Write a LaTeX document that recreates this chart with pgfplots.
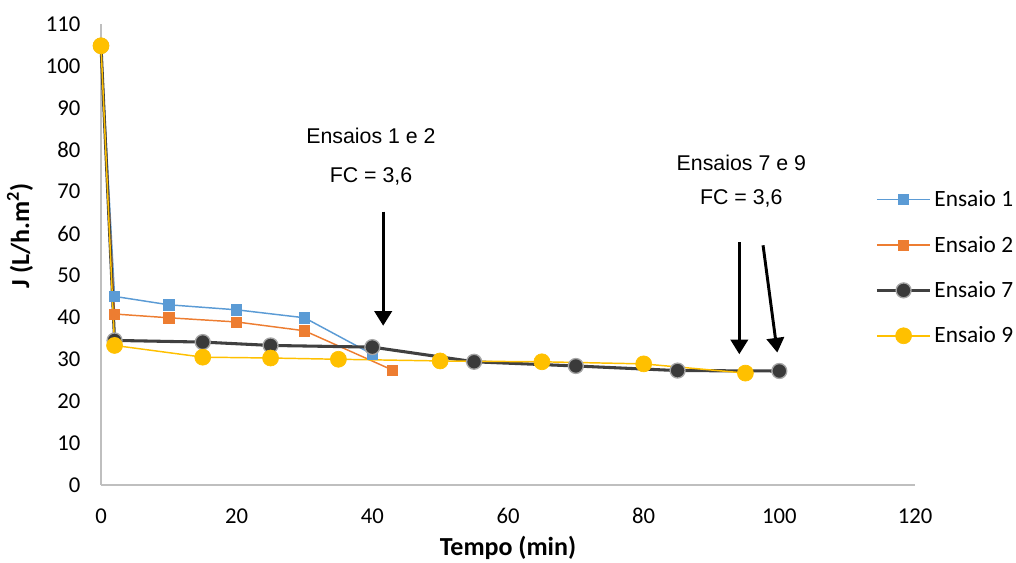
\documentclass[border=0pt]{standalone}
\usepackage{pgfplots}
\pgfplotsset{compat=1.18}
\usetikzlibrary{arrows.meta}
\usepackage{fontspec}
\setmainfont{Carlito}
\newfontfamily\arialf{Liberation Sans}
\definecolor{cblue}{HTML}{5B9BD5}
\definecolor{corange}{HTML}{ED7D31}
\definecolor{cdark}{HTML}{404040}
\definecolor{cdarkfill}{HTML}{3A3A3A}
\definecolor{cring}{HTML}{A6A6A6}
\definecolor{cyellow}{HTML}{FFC000}
\definecolor{caxis}{HTML}{BFBFBF}
\begin{document}
\begin{tikzpicture}
\begin{axis}[
  scale only axis, width=610.5pt, height=345.75pt,
  xmin=0, xmax=120, ymin=0, ymax=110,
  xtick={0,20,...,120}, ytick={0,10,...,110},
  axis x line=bottom, axis y line=left,
  axis line style={draw=caxis, line width=1.2pt, -},
  major tick length=0pt,
  tick label style={font=\fontsize{17}{20}\selectfont},
  /pgf/number format/assume math mode=true,
  yticklabel style={xshift=-12pt},
  xticklabel style={yshift=-14pt},
  xlabel={\textbf{Tempo (min)}},
  ylabel={\textbf{J (L/h.m\textsuperscript{2})}},
  label style={font=\fontsize{19.5}{23}\selectfont},
  xlabel style={at={(axis description cs:0.5,0)}, anchor=center, yshift=-47.5pt},
  ylabel style={at={(axis description cs:-0.0995,0.54)}, anchor=center},
  clip=false,
  legend style={at={(axis description cs:0.951,0.645)}, anchor=north west, draw=none, fill=none,
    font=\fontsize{17.5}{20}\selectfont, row sep=16.5pt, inner sep=0pt},
  legend cell align=left,
  legend image code/.code={\draw[mark repeat=2,mark phase=2] plot coordinates {(0pt,0pt) (20pt,0pt) (40pt,0pt)};},
]
\addplot[color=cblue, line width=1.1pt, mark=square*, mark size=3.8pt, mark options={fill=cblue, draw=cblue, line width=0.5pt}]
  coordinates {(0,104.8) (2,45) (10,43) (20,41.8) (30,39.9) (40,31.2)};
\addlegendentry{Ensaio 1}
\addplot[color=corange, line width=1.1pt, mark=square*, mark size=3.8pt, mark options={fill=corange, draw=corange, line width=0.5pt}]
  coordinates {(0,104.8) (2,40.8) (10,39.9) (20,38.9) (30,36.8) (43,27.4)};
\addlegendentry{Ensaio 2}
\addplot[color=cdark, line width=2.3pt, mark=*, mark size=5.6pt, mark options={fill=cdarkfill, draw=cring, line width=1pt}]
  coordinates {(0,104.8) (2,34.5) (15,34.1) (25,33.3) (40,32.9) (55,29.4) (70,28.4) (85,27.3) (100,27.2)};
\addlegendentry{Ensaio 7}
\addplot[color=cyellow, line width=1.1pt, mark=*, mark size=6pt, mark options={fill=cyellow, draw=cyellow, line width=0.5pt}]
  coordinates {(0,104.8) (2,33.3) (15,30.5) (25,30.3) (35,30.0) (50,29.6) (65,29.4) (80,28.9) (95,26.7)};
\addlegendentry{Ensaio 9}
\node[font=\arialf\fontsize{16}{19}\selectfont] at (axis cs:39.8,83.3) {Ensaios 1 e 2};
\node[font=\arialf\fontsize{16}{19}\selectfont] at (axis cs:39.8,73.7) {FC = 3,6};
\node[font=\arialf\fontsize{16}{19}\selectfont] at (axis cs:94.4,76.8) {Ensaios 7 e 9};
\node[font=\arialf\fontsize{16}{19}\selectfont] at (axis cs:94.4,68.3) {FC = 3,6};
\draw[line width=2.2pt, -{Triangle[width=13pt,length=11pt]}] (axis cs:41.6,65.2) -- (axis cs:41.6,38.0);
\draw[line width=2.2pt, -{Triangle[width=13pt,length=11pt]}] (axis cs:94.1,57.9) -- (axis cs:94.1,31.2);
\draw[line width=2.2pt, -{Triangle[width=13pt,length=11pt]}] (axis cs:97.6,57.2) -- (axis cs:99.7,31.6);
\end{axis}
\pgfresetboundingbox
\path (-75.75pt,-58.5pt) rectangle (686.25pt,363.75pt);
\end{tikzpicture}
\end{document}
